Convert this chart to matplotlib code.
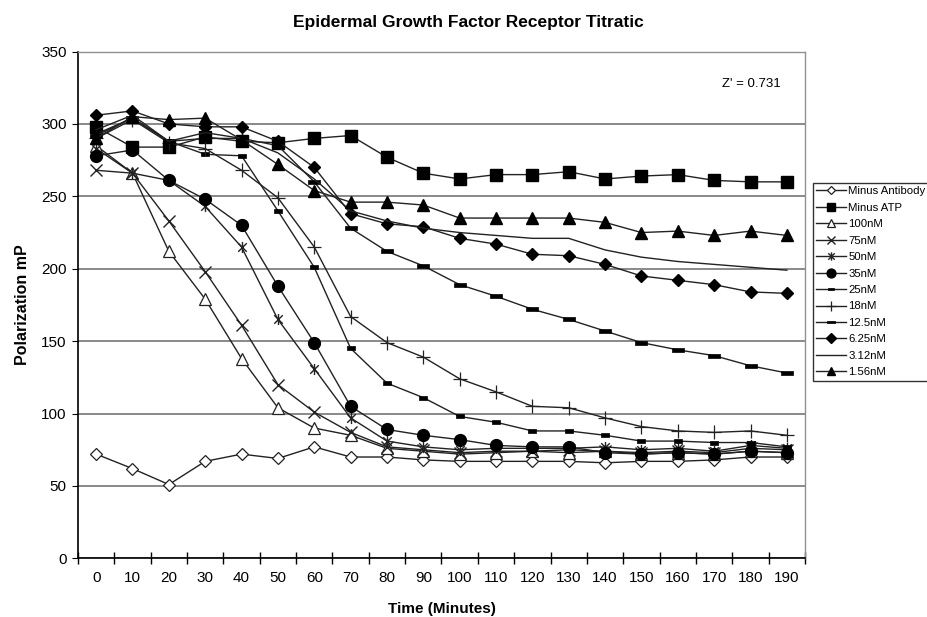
import numpy as np
import matplotlib
matplotlib.use('Agg')
import matplotlib.pyplot as plt
from matplotlib.path import Path

plt.rcParams['font.family'] = ['Liberation Sans', 'DejaVu Sans']

times = [0, 10, 20, 30, 40, 50, 60, 70, 80, 90, 100, 110, 120, 130, 140, 150, 160, 170, 180, 190]

minus_antibody = [72, 62, 51, 67, 72, 69, 77, 70, 70, 68, 67, 67, 67, 67, 66, 67, 67, 68, 70, 70]
minus_atp = [298, 284, 284, 291, 288, 287, 290, 292, 277, 266, 262, 265, 265, 267, 262, 264, 265, 261, 260, 260]
nm100 = [285, 266, 212, 179, 138, 104, 90, 85, 76, 74, 72, 73, 74, 73, 74, 72, 73, 72, 74, 73]
nm75 = [268, 266, 233, 198, 161, 120, 101, 87, 77, 75, 73, 74, 74, 75, 74, 73, 74, 73, 76, 75]
nm50 = [283, 266, 261, 243, 215, 165, 131, 97, 81, 77, 75, 76, 76, 76, 77, 75, 76, 74, 78, 76]
nm35 = [278, 282, 261, 248, 230, 188, 149, 105, 89, 85, 82, 78, 77, 77, 73, 72, 73, 72, 74, 73]
nm25 = [293, 304, 288, 279, 278, 240, 201, 145, 121, 111, 98, 94, 88, 88, 85, 81, 81, 80, 80, 77]
nm18 = [290, 303, 287, 283, 268, 249, 215, 167, 149, 139, 124, 115, 105, 104, 97, 91, 88, 87, 88, 85]
nm12_5 = [292, 304, 288, 290, 290, 285, 260, 228, 212, 202, 189, 181, 172, 165, 157, 149, 144, 140, 133, 128]
nm6_25 = [306, 309, 300, 298, 298, 288, 270, 238, 231, 229, 221, 217, 210, 209, 203, 195, 192, 189, 184, 183]
nm3_12 = [296, 306, 288, 294, 290, 280, 262, 240, 233, 228, 225, 223, 221, 221, 213, 208, 205, 203, 201, 199]
nm1_56 = [290, 305, 303, 304, 289, 272, 254, 246, 246, 244, 235, 235, 235, 235, 232, 225, 226, 223, 226, 223]

# excel-style markers
star = Path([(-1, -1), (1, 1), (-1, 1), (1, -1), (0, -1.3), (0, 1.3)],
            [Path.MOVETO, Path.LINETO, Path.MOVETO, Path.LINETO, Path.MOVETO, Path.LINETO])
bar_small = [(-1, -0.45), (1, -0.45), (1, 0.45), (-1, 0.45), (-1, -0.45)]
bar_long = [(-1, -0.3), (1, -0.3), (1, 0.3), (-1, 0.3), (-1, -0.3)]

series = [
    ('Minus Antibody', minus_antibody, dict(marker='D', ms=6, mfc='white', mec='#222', mew=0.9)),
    ('Minus ATP', minus_atp, dict(marker='s', ms=8.5, mfc='black', mec='black')),
    ('100nM', nm100, dict(marker='^', ms=8, mfc='white', mec='#222', mew=0.9)),
    ('75nM', nm75, dict(marker='x', ms=8, mec='#222', mew=1.0)),
    ('50nM', nm50, dict(marker=star, ms=8, mfc='none', mec='#222', mew=1.0)),
    ('35nM', nm35, dict(marker='o', ms=8.5, mfc='black', mec='black')),
    ('25nM', nm25, dict(marker=bar_small, ms=5.5, mfc='black', mec='black', mew=0.5)),
    ('18nM', nm18, dict(marker='+', ms=10, mec='#222', mew=0.9)),
    ('12.5nM', nm12_5, dict(marker=bar_long, ms=8, mfc='black', mec='black', mew=0.5)),
    ('6.25nM', nm6_25, dict(marker='D', ms=6.5, mfc='black', mec='black')),
    ('3.12nM', nm3_12, dict(marker=None)),
    ('1.56nM', nm1_56, dict(marker='^', ms=8.5, mfc='black', mec='black')),
]

fig = plt.figure(figsize=(9.28, 6.17), dpi=100)
ax = fig.add_axes([0.084, 0.095, 0.7835, 0.8215])

x = np.arange(len(times))
for name, vals, style in series:
    ax.plot(x, vals, color='#222222', lw=1.0, label=name, **style)

ax.set_xlim(-0.5, len(times) - 0.5)
ax.set_ylim(0, 350)
ax.set_yticks(range(0, 351, 50))
ax.set_xticks(x)
ax.set_xticklabels([str(t) for t in times], fontsize=11)
ax.set_xticks(np.arange(-0.5, len(times), 1), minor=True)
ax.tick_params(axis='x', which='major', length=0, pad=9)
ax.tick_params(axis='x', which='minor', length=8, direction='inout', width=1)
ax.tick_params(axis='y', length=4, direction='out', labelsize=11, pad=4)

ax.yaxis.grid(True, color='#808080', lw=1.3)
ax.set_axisbelow(True)
for side in ['top', 'right']:
    ax.spines[side].set_color('#909090')
    ax.spines[side].set_linewidth(1.0)
for side in ['left', 'bottom']:
    ax.spines[side].set_color('black')
    ax.spines[side].set_linewidth(1.2)

ax.set_xlabel('Time (Minutes)', fontsize=11, fontweight='bold', labelpad=12)
ax.set_ylabel('Polarization mP', fontsize=11.5, fontweight='bold', labelpad=8)
fig.text(0.505, 0.963, 'Epidermal Growth Factor Receptor Titratic',
         ha='center', va='center', fontsize=12.5, fontweight='bold')
ax.text(0.967, 0.935, "Z' = 0.731", transform=ax.transAxes, ha='right',
        va='center', fontsize=9.5)

leg = fig.legend(loc='upper left', bbox_to_anchor=(0.876, 0.704), fontsize=8.2,
                 frameon=True, fancybox=False, edgecolor='black', handlelength=2.6,
                 labelspacing=0.57, borderpad=0.3, borderaxespad=0,
                 handletextpad=0.2, markerscale=0.75)
leg.get_frame().set_linewidth(1.0)

fig.savefig('out.png', dpi=100)
